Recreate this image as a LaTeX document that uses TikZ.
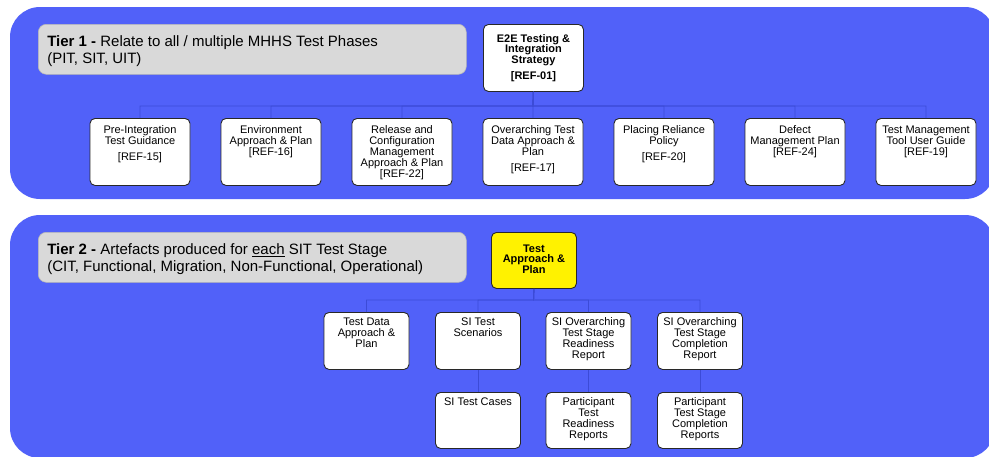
\documentclass[tikz,border=0pt]{standalone}
\usepackage{fontspec}
\setmainfont{Liberation Sans}
\definecolor{panelblue}{RGB}{81,97,249}
\definecolor{connblue}{RGB}{60,75,215}
\definecolor{labelgray}{RGB}{217,217,217}
\definecolor{boxline}{RGB}{40,40,40}
\newcommand\boxtxt[4]{\parbox[c][#2][t]{#1}{\centering\rule{0pt}{#3}#4\par}}
\newcommand\lbltxt[1]{\parbox[c][50pt][t]{410pt}{\raggedright\rule{0pt}{22pt}#1\par}}
\begin{document}
\begin{tikzpicture}[x=1pt,y=-1pt,
  panel/.style={fill=panelblue, rounded corners=30pt},
  tierlabel/.style={fill=labelgray, draw=labelgray!85!black, line width=0.6pt, rounded corners=8pt, inner sep=0pt, inner xsep=9pt, font=\fontsize{15}{17}\selectfont},
  card/.style={draw=boxline, fill=white, rounded corners=5pt, inner sep=0pt, line width=0.9pt, font=\fontsize{11}{11}\selectfont},
  keycard/.style={card, font=\bfseries\fontsize{11}{10.5}\selectfont},
  conn/.style={draw=connblue, line width=0.9pt}]
\clip (0,0) rectangle (989,456);
\useasboundingbox (0,0) rectangle (989,456);
\fill[white] (0,0) rectangle (989,456);
% panels
\fill[panel] (10,7) rectangle (995,199);
\fill[panel] (10,215) rectangle (995,458);
% Tier 1
\node[tierlabel, anchor=north west] (t1label) at (38,24) {\lbltxt{\textbf{Tier 1 -} Relate to all / multiple MHHS Test Phases\\(PIT, SIT, UIT)}};
\node[keycard, anchor=north west] (e2e) at (483,24) {\boxtxt{100pt}{67pt}{18pt}{E2E Testing \&\\Integration\\Strategy\\[5.5pt][REF-01]}};
\node[card, anchor=north] (r1a) at (140,118) {\boxtxt{100pt}{67pt}{15pt}{Pre-Integration\\Test Guidance\\[5pt][REF-15]}};
\node[card, anchor=north] (r1b) at (271,118) {\boxtxt{100pt}{67pt}{15pt}{Environment\\Approach \& Plan\\{}[REF-16]}};
\node[card, anchor=north] (r1c) at (402,118) {\boxtxt{100pt}{67pt}{15pt}{Release and\\Configuration\\Management\\Approach \& Plan\\{}[REF-22]}};
\node[card, anchor=north] (r1d) at (533,118) {\boxtxt{100pt}{67pt}{15pt}{Overarching Test\\Data Approach \&\\Plan\\[5pt][REF-17]}};
\node[card, anchor=north] (r1e) at (664,118) {\boxtxt{100pt}{67pt}{15pt}{Placing Reliance\\Policy\\[5pt][REF-20]}};
\node[card, anchor=north] (r1f) at (795,118) {\boxtxt{100pt}{67pt}{15pt}{Defect\\Management Plan\\{}[REF-24]}};
\node[card, anchor=north] (r1g) at (926,118) {\boxtxt{100pt}{67pt}{15pt}{Test Management\\Tool User Guide\\{}[REF-19]}};
\coordinate (bus1) at (533,106);
\foreach \n in {r1a,r1b,r1c,r1d,r1e,r1f,r1g}
  \draw[conn] (e2e.south) -- (bus1) -| (\n.north);
% Tier 2
\node[tierlabel, anchor=north west] (t2label) at (38,232) {\lbltxt{\textbf{Tier 2 -} Artefacts produced for \underline{each} SIT Test Stage\\(CIT, Functional, Migration, Non-Functional, Operational)}};
\node[keycard, fill=yellow, anchor=north west] (tap) at (491,232) {\boxtxt{85pt}{56pt}{20pt}{Test\\Approach \&\\Plan}};
\node[card, anchor=north] (tdap) at (366.5,312) {\boxtxt{85pt}{57pt}{13.5pt}{Test Data\\Approach \&\\Plan}};
\node[card, anchor=north] (scen) at (478,312) {\boxtxt{85pt}{57pt}{13.5pt}{SI Test\\Scenarios}};
\node[card, anchor=north] (ready) at (588.5,312) {\boxtxt{85pt}{57pt}{13.5pt}{SI Overarching\\Test Stage\\Readiness\\Report}};
\node[card, anchor=north] (compl) at (700,312) {\boxtxt{85pt}{57pt}{13.5pt}{SI Overarching\\Test Stage\\Completion\\Report}};
\node[card, anchor=north] (cases) at (478,392) {\boxtxt{85pt}{56pt}{13.5pt}{SI Test Cases}};
\node[card, anchor=north] (pready) at (588.5,392) {\boxtxt{85pt}{56pt}{13.5pt}{Participant\\Test\\Readiness\\Reports}};
\node[card, anchor=north] (pcompl) at (700,392) {\boxtxt{85pt}{56pt}{13.5pt}{Participant\\Test Stage\\Completion\\Reports}};
\coordinate (bus2) at (533.5,300);
\foreach \n in {tdap,scen,ready,compl}
  \draw[conn] (tap.south) -- (bus2) -| (\n.north);
\draw[conn] (scen.south) -- (cases.north);
\draw[conn] (ready.south) -- (pready.north);
\draw[conn] (compl.south) -- (pcompl.north);
\end{tikzpicture}
\end{document}
